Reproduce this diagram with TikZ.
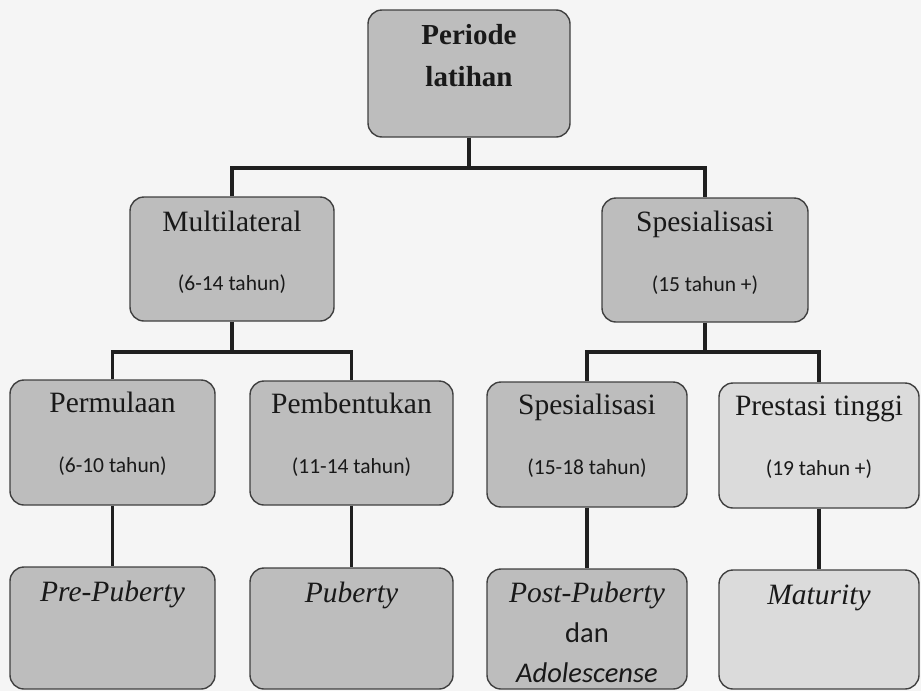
\documentclass[tikz,border=0pt]{standalone}
\usepackage{fontspec}
\setmainfont{Liberation Serif}
\newfontfamily\calib{Carlito}
\begin{document}
\begin{tikzpicture}[x=1pt,y=-1pt,
  box/.style={draw=black!75, line width=1.4pt, rounded corners=14pt, fill=black!26, inner sep=0pt},
  lite/.style={fill=black!14},
  conn/.style={line width=3.6pt, draw=black!88, line join=miter},
  lbl/.style={anchor=base, inner sep=0pt, text=black!90, font=\fontsize{29.5}{31}\selectfont},
  toplbl/.style={lbl, font=\fontsize{29}{31}\selectfont\bfseries},
  itlbl/.style={lbl, font=\fontsize{29.5}{31}\selectfont\itshape},
  sublbl/.style={anchor=base, inner sep=0pt, text=black!90, font=\calib\fontsize{21.5}{23}\selectfont},
  sanslbl/.style={anchor=base, inner sep=0pt, text=black!90, font=\calib\fontsize{28.5}{30}\selectfont}
]
\fill[white!96!black] (0,0) rectangle (921,691);
\useasboundingbox (0,0) rectangle (921,691);

% boxes
\node[box, minimum width=202pt, minimum height=127pt] (T) at (469,73.5) {};
\node[box, minimum width=204pt, minimum height=124pt] (M) at (232,259) {};
\node[box, minimum width=206pt, minimum height=124pt] (S) at (705,260) {};
\node[box, minimum width=205pt, minimum height=125pt] (P1) at (112.5,442.5) {};
\node[box, minimum width=203pt, minimum height=124pt] (P2) at (351.5,443) {};
\node[box, minimum width=200pt, minimum height=125pt] (P3) at (587,444.5) {};
\node[box, lite, minimum width=200pt, minimum height=125pt] (P4) at (819,445.5) {};
\node[box, minimum width=205pt, minimum height=122pt] (L1) at (112.5,628) {};
\node[box, minimum width=203pt, minimum height=121pt] (L2) at (351.5,628.5) {};
\node[box, minimum width=200pt, minimum height=120pt] (L3) at (587,629) {};
\node[box, lite, minimum width=200pt, minimum height=119pt] (L4) at (819,629.5) {};

% connectors
\coordinate (j1) at (469,168);
\coordinate (j2) at (232,352);
\coordinate (j3) at (705,352);
\draw[conn] (T.south) -- (j1);
\draw[conn] (M.north) |- (j1) -| (S.north);
\draw[conn] (M.south) -- (j2);
\draw[conn] (P1.north) |- (j2) -| (P2.north);
\draw[conn] (S.south) -- (j3);
\draw[conn] (P3.north) |- (j3) -| (P4.north);
\draw[conn] (P1.south) -- (L1.north);
\draw[conn] (P2.south) -- (L2.north);
\draw[conn] (P3.south) -- (L3.north);
\draw[conn] (P4.south) -- (L4.north);

% texts
\node[toplbl] (t1) at ([yshift=-35pt]T.north) {Periode};
\node[toplbl] (t2) at ([yshift=-77pt]T.north) {latihan};

\node[lbl] (m1) at ([yshift=-35pt]M.north) {Multilateral};
\node[sublbl] (m2) at ([yshift=-94pt]M.north) {(6-14 tahun)};
\node[lbl] (s1) at ([yshift=-34pt]S.north) {Spesialisasi};
\node[sublbl] (s2) at ([yshift=-94pt]S.north) {(15 tahun +)};

\node[lbl] (p1a) at ([yshift=-33pt]P1.north) {Permulaan};
\node[sublbl] (p1b) at ([yshift=-93pt]P1.north) {(6-10 tahun)};
\node[lbl] (p2a) at ([yshift=-33pt]P2.north) {Pembentukan};
\node[sublbl] (p2b) at ([yshift=-93pt]P2.north) {(11-14 tahun)};
\node[lbl] (p3a) at ([yshift=-33pt]P3.north) {Spesialisasi};
\node[sublbl] (p3b) at ([yshift=-93pt]P3.north) {(15-18 tahun)};
\node[lbl] (p4a) at ([yshift=-33pt]P4.north) {Prestasi tinggi};
\node[sublbl] (p4b) at ([yshift=-93pt]P4.north) {(19 tahun +)};

\node[itlbl] (l1) at ([yshift=-35pt]L1.north) {Pre-Puberty};
\node[itlbl] (l2) at ([yshift=-35pt]L2.north) {Puberty};
\node[itlbl] (l3a) at ([yshift=-34pt]L3.north) {Post-Puberty};
\node[sanslbl] (l3b) at ([yshift=-74pt]L3.north) {dan};
\node[sanslbl, font=\calib\itshape\fontsize{28.5}{30}\selectfont] (l3c) at ([yshift=-114pt]L3.north) {Adolescense};
\node[itlbl] (l4) at ([yshift=-35pt]L4.north) {Maturity};
\end{tikzpicture}
\end{document}
